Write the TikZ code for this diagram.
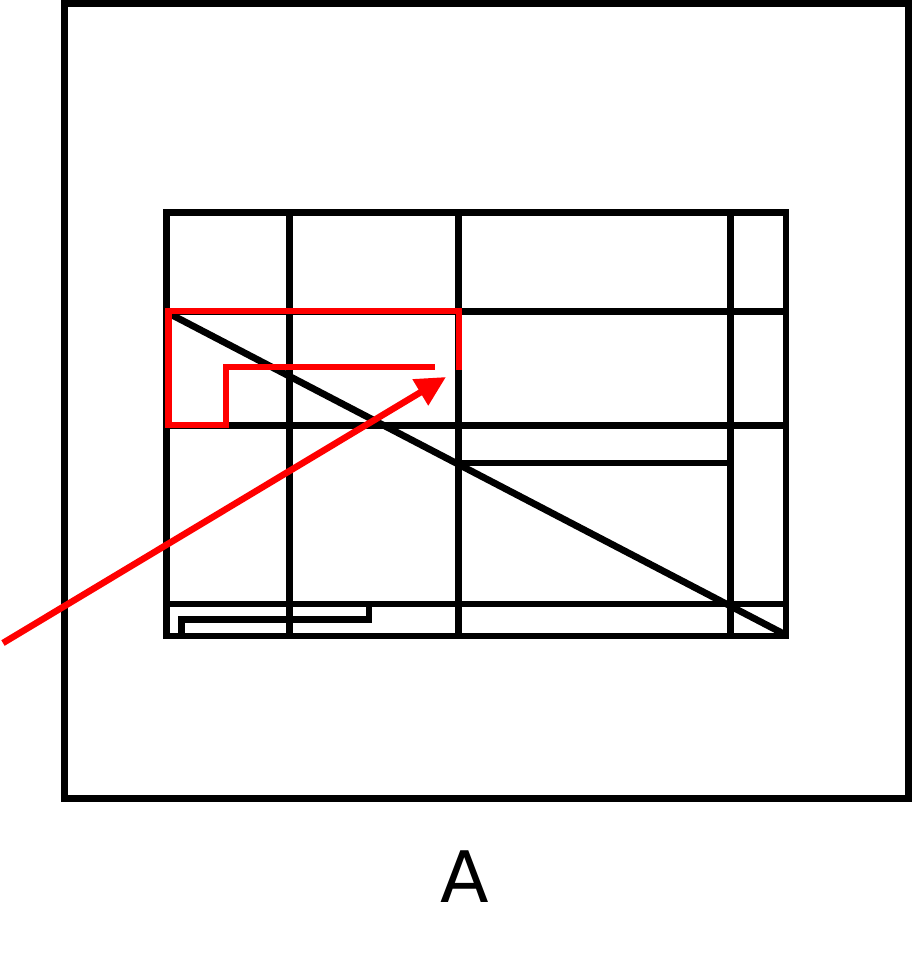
\documentclass[tikz,border=0pt]{standalone}
\usepackage{fontspec}
\newfontfamily\labelfont{DejaVu Sans}
\usetikzlibrary{arrows.meta}
\definecolor{pured}{RGB}{255,0,0}
\tikzset{
  blk/.style={draw=black, line width=6.8pt, line join=miter},
  redl/.style={draw=pured, line width=6.5pt, line join=miter},
}
\begin{document}
\begin{tikzpicture}[x=1pt,y=-1pt]
\useasboundingbox (0,0) rectangle (912,978);
% outer frame
\draw[blk] (64.5,3.5) rectangle (908.5,798.5);
% inner rectangle
\coordinate (TL) at (166.5,212.5);
\coordinate (BR) at (786,636);
\draw[blk] (TL) rectangle (BR);
% vertical lines
\draw[blk] (289.5,212.5) -- (289.5,636);
\draw[blk] (458.5,212.5) -- (458.5,636);
\draw[blk] (730.5,212.5) -- (730.5,636);
% horizontal lines
\draw[blk] (166.5,311.5) -- (786,311.5);
\draw[blk] (166.5,425.5) -- (786,425.5);
\draw[blk] (458.5,463) -- (730.5,463);
\draw[blk] (166.5,604) -- (786,604);
% diagonal
\coordinate (d1) at (170,314);
\coordinate (d2) at (784,634);
\draw[blk] (d1) -- (d2);
% small bottom path
\coordinate (s1) at (181.5,636);
\coordinate (s2) at (369,604);
\draw[blk] (s1) -- (181.5,619.5) -- (369,619.5) -- (s2);
% red polyline
\coordinate (r1) at (459,370);
\coordinate (r2) at (435,367);
\draw[redl] (r1) -- (459,311) -- (168.5,311) -- (168.5,425) -- (226,425) -- (226,367) -- (r2);
% red arrow
\coordinate (a1) at (3,643);
\coordinate (a2) at (446,377);
\draw[redl, -{Triangle[length=30pt,width=29pt]}] (a1) -- (a2);
% label
\node[anchor=base, inner sep=0pt, font=\labelfont\fontsize{71}{71}\selectfont] (lab) at (465,902) {A};
\end{tikzpicture}
\end{document}
